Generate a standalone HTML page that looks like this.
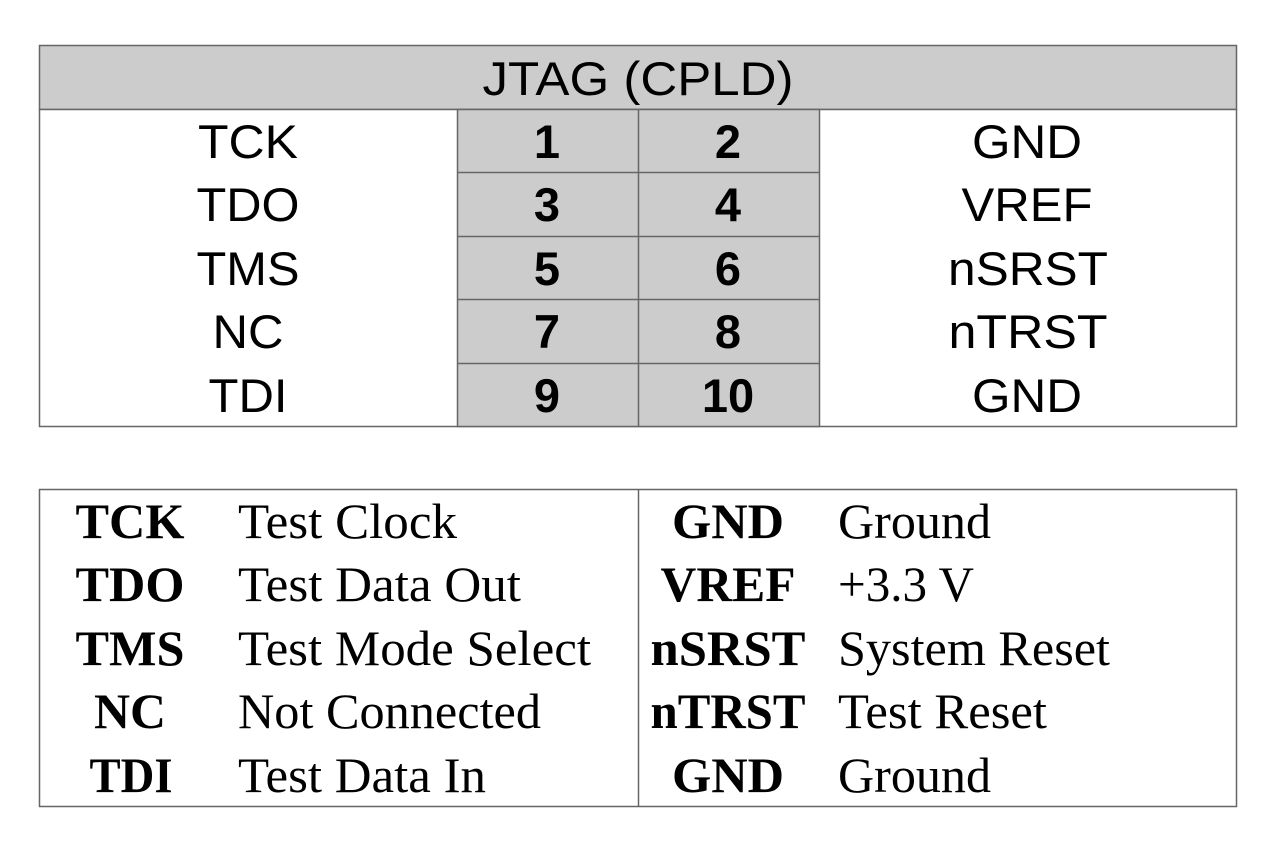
<!DOCTYPE html>
<html><head><style>html,body{margin:0;padding:0;background:#fff}svg{display:block}</style></head><body>
<svg width="1280" height="851" xmlns="http://www.w3.org/2000/svg">
<rect x="0" y="0" width="1280" height="851" fill="#fff"/>
<g stroke="#666" stroke-width="1.5">
<rect x="39.5" y="45.5" width="1197" height="64" fill="#ccc"/>
<rect x="39.5" y="109.5" width="1197" height="317" fill="#fff"/>
<rect x="457.5" y="109.5" width="362" height="317" fill="#ccc"/>
<line x1="638.5" y1="109.5" x2="638.5" y2="426.5"/>
<line x1="457.5" y1="172.5" x2="819.5" y2="172.5"/>
<line x1="457.5" y1="236.5" x2="819.5" y2="236.5"/>
<line x1="457.5" y1="299.5" x2="819.5" y2="299.5"/>
<line x1="457.5" y1="363.5" x2="819.5" y2="363.5"/>
<rect x="39.5" y="489.5" width="1197" height="317" fill="#fff"/>
<line x1="638.5" y1="489.5" x2="638.5" y2="806.5"/>
</g>
<g font-family="Liberation Sans, sans-serif" font-size="47" text-anchor="middle" fill="#000">
<text x="638" y="95" textLength="311" lengthAdjust="spacingAndGlyphs">JTAG (CPLD)</text>
<text x="248" y="158" textLength="100" lengthAdjust="spacingAndGlyphs">TCK</text>
<text x="248" y="221" textLength="103" lengthAdjust="spacingAndGlyphs">TDO</text>
<text x="248" y="285" textLength="103" lengthAdjust="spacingAndGlyphs">TMS</text>
<text x="248" y="348" textLength="71" lengthAdjust="spacingAndGlyphs">NC</text>
<text x="248" y="412" textLength="79" lengthAdjust="spacingAndGlyphs">TDI</text>
<text x="1027" y="158" textLength="110" lengthAdjust="spacingAndGlyphs">GND</text>
<text x="1027" y="221" textLength="131" lengthAdjust="spacingAndGlyphs">VREF</text>
<text x="1028" y="285" textLength="160" lengthAdjust="spacingAndGlyphs">nSRST</text>
<text x="1028" y="348" textLength="159" lengthAdjust="spacingAndGlyphs">nTRST</text>
<text x="1027" y="412" textLength="110" lengthAdjust="spacingAndGlyphs">GND</text>
<g font-weight="bold">
<text x="547" y="158">1</text><text x="728" y="158">2</text>
<text x="547" y="221">3</text><text x="728" y="221">4</text>
<text x="547" y="285">5</text><text x="728" y="285">6</text>
<text x="547" y="348">7</text><text x="728" y="348">8</text>
<text x="547" y="412">9</text><text x="728" y="412">10</text>
</g>
</g>
<g font-family="Liberation Serif, serif" font-size="50" fill="#000">
<g font-weight="bold" text-anchor="middle">
<text x="130" y="538" textLength="109" lengthAdjust="spacingAndGlyphs">TCK</text>
<text x="130" y="601" textLength="109" lengthAdjust="spacingAndGlyphs">TDO</text>
<text x="130" y="665" textLength="109" lengthAdjust="spacingAndGlyphs">TMS</text>
<text x="130" y="728" textLength="72" lengthAdjust="spacingAndGlyphs">NC</text>
<text x="131" y="792" textLength="83" lengthAdjust="spacingAndGlyphs">TDI</text>
<text x="728" y="538" textLength="112" lengthAdjust="spacingAndGlyphs">GND</text>
<text x="728" y="601" textLength="135" lengthAdjust="spacingAndGlyphs">VREF</text>
<text x="728" y="665" textLength="155" lengthAdjust="spacingAndGlyphs">nSRST</text>
<text x="728" y="728" textLength="155" lengthAdjust="spacingAndGlyphs">nTRST</text>
<text x="728" y="792" textLength="112" lengthAdjust="spacingAndGlyphs">GND</text>
</g>
<text x="238" y="538" textLength="219" lengthAdjust="spacingAndGlyphs">Test Clock</text>
<text x="238" y="601" textLength="283" lengthAdjust="spacingAndGlyphs">Test Data Out</text>
<text x="238" y="665" textLength="353" lengthAdjust="spacingAndGlyphs">Test Mode Select</text>
<text x="238" y="728" textLength="303" lengthAdjust="spacingAndGlyphs">Not Connected</text>
<text x="238" y="792" textLength="248" lengthAdjust="spacingAndGlyphs">Test Data In</text>
<text x="838" y="538" textLength="153" lengthAdjust="spacingAndGlyphs">Ground</text>
<text x="838" y="601" textLength="136" lengthAdjust="spacingAndGlyphs">+3.3 V</text>
<text x="838" y="665" textLength="272" lengthAdjust="spacingAndGlyphs">System Reset</text>
<text x="838" y="728" textLength="209" lengthAdjust="spacingAndGlyphs">Test Reset</text>
<text x="838" y="792" textLength="153" lengthAdjust="spacingAndGlyphs">Ground</text>
</g>
</svg>
</body></html>
